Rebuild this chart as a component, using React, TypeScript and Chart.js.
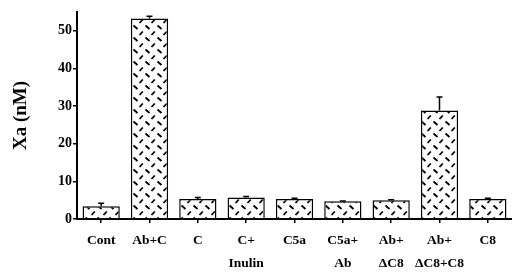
import React, { useEffect, useRef } from "react";
import { Chart, registerables } from "chart.js";

Chart.register(...registerables);

const categories: (string | string[])[] = [
  "Cont",
  "Ab+C",
  "C",
  ["C+", "Inulin"],
  "C5a",
  ["C5a+", "Ab"],
  ["Ab+", "ΔC8"],
  ["Ab+", "ΔC8+C8"],
  "C8",
];
const values = [3.4, 53.3, 5.3, 5.7, 5.3, 4.7, 5.0, 28.8, 5.3];
const errors = [0.8, 0.6, 0.4, 0.3, 0.2, 0.1, 0.1, 3.6, 0.2];
const yTicks = [0, 10, 20, 30, 40, 50];

function makePattern(): CanvasPattern | string {
  const c = document.createElement("canvas");
  c.width = 12;
  c.height = 12;
  const ctx = c.getContext("2d");
  if (!ctx) return "#fff";
  ctx.fillStyle = "#fff";
  ctx.fillRect(0, 0, 12, 12);
  ctx.strokeStyle = "#000";
  ctx.lineWidth = 1.8;
  ctx.lineCap = "butt";
  ctx.beginPath();
  ctx.moveTo(1.5, 1.5);
  ctx.lineTo(5.5, 5);
  ctx.moveTo(7.5, 11);
  ctx.lineTo(10.8, 7.5);
  ctx.stroke();
  const p = ctx.createPattern(c, "repeat");
  return p || "#fff";
}

const errorBarPlugin = {
  id: "errorBars",
  afterDatasetsDraw(chart: any) {
    const ctx = chart.ctx;
    const xs = chart.scales.x;
    const ys = chart.scales.y;
    ctx.save();
    ctx.strokeStyle = "#000";
    ctx.lineWidth = 1.5;
    values.forEach((v, i) => {
      const x = xs.getPixelForValue(i);
      const y0 = ys.getPixelForValue(v);
      const y1 = ys.getPixelForValue(v + errors[i]);
      ctx.beginPath();
      ctx.moveTo(x, y0);
      ctx.lineTo(x, y1);
      ctx.moveTo(x - 3, y1);
      ctx.lineTo(x + 3, y1);
      ctx.stroke();
    });
    ctx.restore();
  },
};

export default function App() {
  const ref = useRef<HTMLCanvasElement>(null);
  useEffect(() => {
    if (!ref.current) return;
    const font = "'Liberation Serif', 'Times New Roman', serif";
    const chart = new Chart(ref.current, {
      type: "bar",
      data: {
        labels: categories,
        datasets: [
          {
            data: values,
            backgroundColor: makePattern() as any,
            borderColor: "#000",
            borderWidth: 1.5,
            barPercentage: 0.77,
            categoryPercentage: 1,
          },
        ],
      },
      options: {
        animation: false,
        responsive: true,
        maintainAspectRatio: false,
        layout: { padding: { top: 12, right: 0, left: 0, bottom: 0 } },
        plugins: { legend: { display: false }, tooltip: { enabled: false } },
        scales: {
          x: {
            afterFit: (s: any) => {
              s.height = 53;
            },
            grid: {
              display: true,
              drawOnChartArea: false,
              drawTicks: true,
              tickLength: 4,
              offset: false,
              color: "#000",
              lineWidth: 1.5,
            },
            border: { display: true, color: "#000", width: 2 },
            ticks: {
              color: "#000",
              font: { family: font, size: 13.5, weight: "bold", lineHeight: 1.7 },
              padding: 6,
              maxRotation: 0,
              autoSkip: false,
            },
          },
          y: {
            min: 0,
            max: 55,
            afterFit: (s: any) => {
              s.width = 77;
            },
            afterBuildTicks: (s: any) => {
              s.ticks = yTicks.map((v) => ({ value: v }));
            },
            grid: {
              display: true,
              drawOnChartArea: false,
              drawTicks: true,
              tickLength: 4,
              color: "#000",
              lineWidth: 1.5,
            },
            border: { display: true, color: "#000", width: 2 },
            ticks: {
              color: "#000",
              font: { family: font, size: 14, weight: "bold" },
              padding: 1,
            },
            title: {
              display: true,
              text: "Xa (nM)",
              color: "#000",
              font: { family: font, size: 19, weight: "bold" },
              padding: { top: 10, bottom: 0 },
            },
          },
        },
      },
      plugins: [errorBarPlugin],
    });
    return () => chart.destroy();
  }, []);
  return (
    <div style={{ position: "absolute", left: 0, top: 0, width: 512, height: 272, background: "#fff" }}>
      <canvas ref={ref} />
    </div>
  );
}
